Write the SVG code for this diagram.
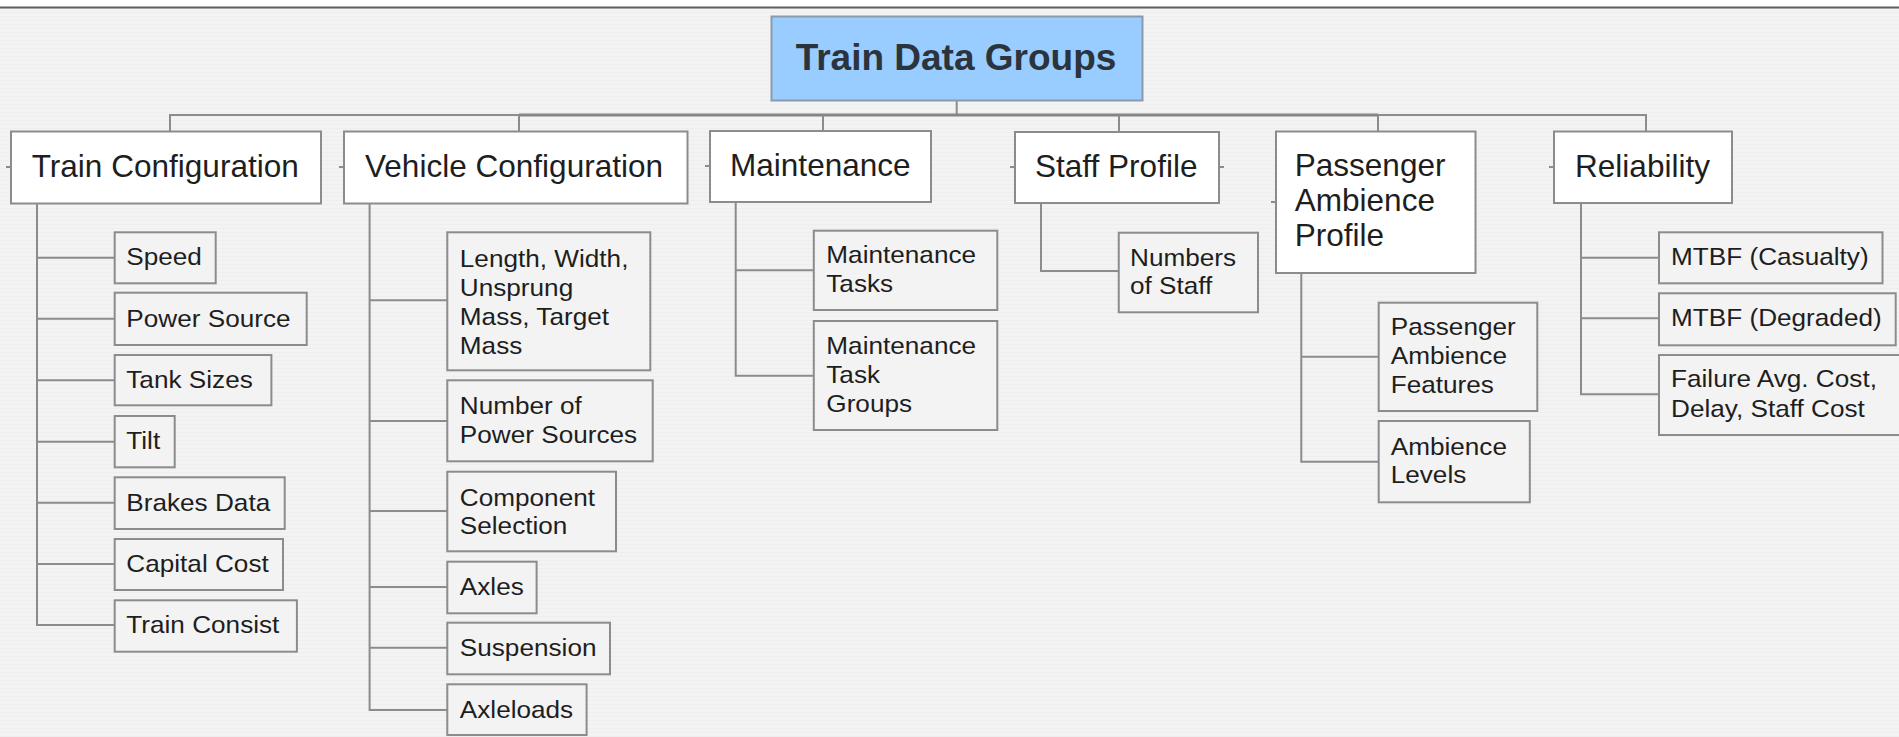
<svg xmlns="http://www.w3.org/2000/svg" width="1899" height="737" viewBox="0 0 1899 737">
<style>
  .box1 { fill: #ffffff; stroke: #8c8c8c; stroke-width: 2; }
  .box2 { fill: #f3f3f3; stroke: #8c8c8c; stroke-width: 2; }
  .root { fill: #99ccff; stroke: #8a9aab; stroke-width: 2; }
  .conn { fill: none; stroke: #8c8c8c; stroke-width: 2; }
  .t0 { font-family: "Liberation Sans", Arial, sans-serif; font-weight: bold; font-size: 37px; fill: #2b333d; }
  .t1 { font-family: "Liberation Sans", Arial, sans-serif; font-size: 30.5px; fill: #1e1e1e; }
  .t2 { font-family: "Liberation Sans", Arial, sans-serif; font-size: 24px; fill: #1e1e1e; }
</style>
<defs>
  <pattern id="stripes" width="8" height="4" patternUnits="userSpaceOnUse">
    <rect width="8" height="4" fill="#f3f3f3"/>
    <rect y="0" width="8" height="1" fill="#eeeeee"/>
  </pattern>
</defs>
<rect x="0" y="0" width="1899" height="737" fill="#ffffff"/>
<rect x="0" y="8" width="1899" height="729" fill="url(#stripes)"/>
<line x1="0" y1="7.5" x2="1899" y2="7.5" stroke="#5e5e5e" stroke-width="2"/>

<g id="connectors">
  <path class="conn" d="M956.7,100.5 V115"/>
  <path class="conn" d="M170,131.5 V115 H1646 V131.5"/>
  <path class="conn" d="M519,115 H1378" stroke-width="3" style="stroke:#858585;stroke-width:3"/>
  <path class="conn" d="M519,115 V131.5 M823,115 V131 M1119,115 V132 M1378,115 V131.5"/>
  <!-- stubs -->
  <path class="conn" d="M6,167 H11 M339,167 H344 M705,166 H710 M1010,167 H1015 M1219,167 H1224 M1271,202 H1276 M1549,167 H1554"/>
  <!-- Train Configuration -->
  <path class="conn" d="M37,203.5 V625 H114.7 M37,257.7 H114.7 M37,318.7 H114.7 M37,380.3 H114.7 M37,441.7 H114.7 M37,502.7 H114.7 M37,564 H114.7"/>
  <!-- Vehicle Configuration -->
  <path class="conn" d="M369.6,203.5 V710 H447.3 M369.6,300.3 H447.3 M369.6,421 H447.3 M369.6,511 H447.3 M369.6,587 H447.3 M369.6,647.7 H447.3"/>
  <!-- Maintenance -->
  <path class="conn" d="M735.7,202 V375.7 H813.8 M735.7,270.3 H813.8"/>
  <!-- Staff Profile -->
  <path class="conn" d="M1041,203 V271 H1118.75"/>
  <!-- Passenger -->
  <path class="conn" d="M1301.3,273 V461.7 H1378.7 M1301.3,356.7 H1378.7"/>
  <!-- Reliability -->
  <path class="conn" d="M1581,203 V394.3 H1659 M1581,257.7 H1659 M1581,318.3 H1659"/>
</g>

<g id="root">
  <rect class="root" x="771.5" y="16.5" width="371" height="84"/>
  <text class="t0" x="956" y="70" text-anchor="middle">Train Data Groups</text>
</g>

<g id="train-configuration">
  <rect class="box1" x="11" y="131.5" width="310" height="72"/>
  <text class="t1" transform="translate(31.7,177) scale(1.035,1)">Train Configuration</text>
</g>
<g id="vehicle-configuration">
  <rect class="box1" x="344" y="131.5" width="343.5" height="72"/>
  <text class="t1" transform="translate(365,177) scale(1.035,1)">Vehicle Configuration</text>
</g>
<g id="maintenance">
  <rect class="box1" x="710" y="131" width="221" height="71"/>
  <text class="t1" transform="translate(730,176) scale(1.035,1)">Maintenance</text>
</g>
<g id="staff-profile">
  <rect class="box1" x="1015" y="132" width="204" height="71"/>
  <text class="t1" transform="translate(1035,177) scale(1.035,1)">Staff Profile</text>
</g>
<g id="passenger-ambience-profile">
  <rect class="box1" x="1276" y="131.5" width="199.5" height="141.5"/>
  <text class="t1" transform="translate(1294.7,176) scale(1.035,1)"><tspan x="0" y="0">Passenger</tspan><tspan x="0" y="35">Ambience</tspan><tspan x="0" y="70">Profile</tspan></text>
</g>
<g id="reliability">
  <rect class="box1" x="1554" y="131.5" width="178" height="71.5"/>
  <text class="t1" transform="translate(1575,177) scale(1.035,1)">Reliability</text>
</g>

<g id="speed">
  <rect class="box2" x="114.7" y="232.3" width="101" height="51"/>
  <text class="t2" transform="translate(126.3,265) scale(1.09,1)">Speed</text>
</g>
<g id="power-source">
  <rect class="box2" x="114.7" y="292.7" width="192" height="52.3"/>
  <text class="t2" transform="translate(126.3,326.7) scale(1.09,1)">Power Source</text>
</g>
<g id="tank-sizes">
  <rect class="box2" x="114.7" y="355" width="156.7" height="50.3"/>
  <text class="t2" transform="translate(126.3,388.3) scale(1.09,1)">Tank Sizes</text>
</g>
<g id="tilt">
  <rect class="box2" x="114.7" y="416" width="60" height="51.3"/>
  <text class="t2" transform="translate(126.3,449.3) scale(1.09,1)">Tilt</text>
</g>
<g id="brakes-data">
  <rect class="box2" x="114.7" y="477.3" width="170" height="51.7"/>
  <text class="t2" transform="translate(126.3,511) scale(1.09,1)">Brakes Data</text>
</g>
<g id="capital-cost">
  <rect class="box2" x="114.7" y="539" width="168.3" height="51"/>
  <text class="t2" transform="translate(126.3,572.3) scale(1.09,1)">Capital Cost</text>
</g>
<g id="train-consist">
  <rect class="box2" x="114.7" y="600.3" width="182.2" height="51.4"/>
  <text class="t2" transform="translate(126.3,633.3) scale(1.09,1)">Train Consist</text>
</g>

<g id="length-width">
  <rect class="box2" x="447.3" y="232.3" width="203" height="138"/>
  <text class="t2" transform="translate(459.8,266.7) scale(1.09,1)"><tspan x="0" y="0">Length, Width,</tspan><tspan x="0" y="29">Unsprung</tspan><tspan x="0" y="58">Mass, Target</tspan><tspan x="0" y="87">Mass</tspan></text>
</g>
<g id="number-power-sources">
  <rect class="box2" x="447.3" y="380.3" width="205.4" height="81"/>
  <text class="t2" transform="translate(459.8,414.3) scale(1.09,1)"><tspan x="0" y="0">Number of</tspan><tspan x="0" y="28.5">Power Sources</tspan></text>
</g>
<g id="component-selection">
  <rect class="box2" x="447.3" y="471.7" width="168.7" height="79.6"/>
  <text class="t2" transform="translate(459.8,505.7) scale(1.09,1)"><tspan x="0" y="0">Component</tspan><tspan x="0" y="28.5">Selection</tspan></text>
</g>
<g id="axles">
  <rect class="box2" x="447.3" y="561.7" width="89.3" height="51.6"/>
  <text class="t2" transform="translate(459.8,595) scale(1.09,1)">Axles</text>
</g>
<g id="suspension">
  <rect class="box2" x="447.3" y="622.7" width="162.7" height="51.6"/>
  <text class="t2" transform="translate(459.8,656) scale(1.09,1)">Suspension</text>
</g>
<g id="axleloads">
  <rect class="box2" x="447.3" y="684.3" width="139.3" height="50.7"/>
  <text class="t2" transform="translate(459.8,717.7) scale(1.09,1)">Axleloads</text>
</g>

<g id="maintenance-tasks">
  <rect class="box2" x="813.8" y="230.7" width="183.5" height="79.3"/>
  <text class="t2" transform="translate(826.3,263.3) scale(1.09,1)"><tspan x="0" y="0">Maintenance</tspan><tspan x="0" y="29">Tasks</tspan></text>
</g>
<g id="maintenance-task-groups">
  <rect class="box2" x="813.8" y="321" width="183.5" height="109"/>
  <text class="t2" transform="translate(826.3,354.3) scale(1.09,1)"><tspan x="0" y="0">Maintenance</tspan><tspan x="0" y="28.7">Task</tspan><tspan x="0" y="57.4">Groups</tspan></text>
</g>

<g id="numbers-of-staff">
  <rect class="box2" x="1118.75" y="232.7" width="139.25" height="79.6"/>
  <text class="t2" transform="translate(1130,265.7) scale(1.09,1)"><tspan x="0" y="0">Numbers</tspan><tspan x="0" y="28.6">of Staff</tspan></text>
</g>

<g id="passenger-ambience-features">
  <rect class="box2" x="1378.7" y="302.7" width="158.6" height="108.3"/>
  <text class="t2" transform="translate(1390.7,335) scale(1.09,1)"><tspan x="0" y="0">Passenger</tspan><tspan x="0" y="29">Ambience</tspan><tspan x="0" y="57.7">Features</tspan></text>
</g>
<g id="ambience-levels">
  <rect class="box2" x="1378.7" y="421" width="151.1" height="81.3"/>
  <text class="t2" transform="translate(1390.7,455) scale(1.09,1)"><tspan x="0" y="0">Ambience</tspan><tspan x="0" y="28.3">Levels</tspan></text>
</g>

<g id="mtbf-casualty">
  <rect class="box2" x="1659" y="232.3" width="223.5" height="51"/>
  <text class="t2" transform="translate(1671,265) scale(1.09,1)">MTBF (Casualty)</text>
</g>
<g id="mtbf-degraded">
  <rect class="box2" x="1659" y="293.3" width="236.7" height="52"/>
  <text class="t2" transform="translate(1671,326) scale(1.09,1)">MTBF (Degraded)</text>
</g>
<g id="failure-cost">
  <rect class="box2" x="1659" y="355" width="250" height="80"/>
  <text class="t2" transform="translate(1671,387.3) scale(1.09,1)"><tspan x="0" y="0">Failure Avg. Cost,</tspan><tspan x="0" y="29.4">Delay, Staff Cost</tspan></text>
</g>
</svg>
